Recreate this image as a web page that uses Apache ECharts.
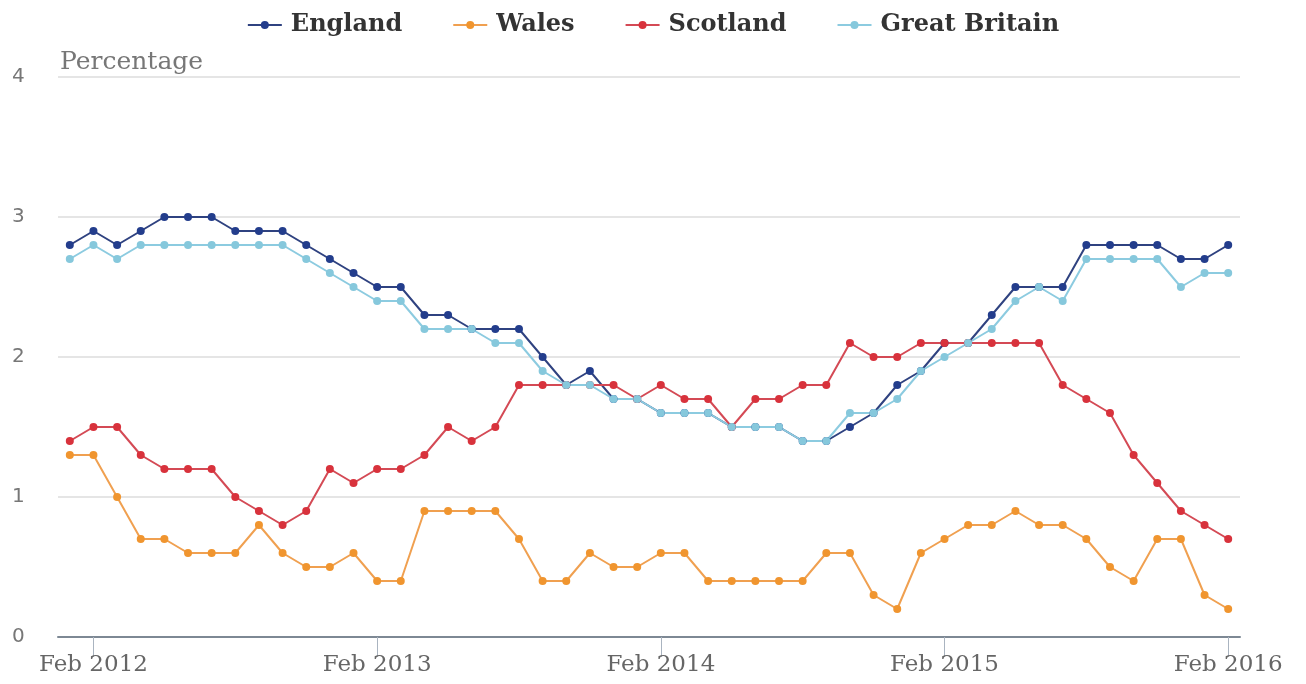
<!DOCTYPE html>
<html>
<head>
<meta charset="utf-8">
<title>Percentage by nation, Jan 2012 – Feb 2016</title>
<script src="https://cdn.jsdelivr.net/npm/echarts@6/dist/echarts.min.js"></script>
<style>
  html, body { margin: 0; padding: 0; background: #ffffff; }
  #chart { width: 1306px; height: 684px; }
</style>
</head>
<body>
<div id="chart"></div>
<script>
// Monthly categories, Jan 2012 to Feb 2016
const months = ['Jan','Feb','Mar','Apr','May','Jun','Jul','Aug','Sep','Oct','Nov','Dec'];
const categories = [];
for (let y = 2012; y <= 2016; y++) {
  for (let m = 0; m < 12; m++) {
    if (y === 2016 && m > 1) break;
    categories.push(months[m] + ' ' + y);
  }
}

const england = [2.8,2.9,2.8,2.9,3.0,3.0,3.0,2.9,2.9,2.9,
                 2.8,2.7,2.6,2.5,2.5,2.3,2.3,2.2,2.2,2.2,
                 2.0,1.8,1.9,1.7,1.7,1.6,1.6,1.6,1.5,1.5,
                 1.5,1.4,1.4,1.5,1.6,1.8,1.9,2.1,2.1,2.3,
                 2.5,2.5,2.5,2.8,2.8,2.8,2.8,2.7,2.7,2.8];

const wales = [1.3,1.3,1.0,0.7,0.7,0.6,0.6,0.6,0.8,0.6,
               0.5,0.5,0.6,0.4,0.4,0.9,0.9,0.9,0.9,0.7,
               0.4,0.4,0.6,0.5,0.5,0.6,0.6,0.4,0.4,0.4,
               0.4,0.4,0.6,0.6,0.3,0.2,0.6,0.7,0.8,0.8,
               0.9,0.8,0.8,0.7,0.5,0.4,0.7,0.7,0.3,0.2];

const scotland = [1.4,1.5,1.5,1.3,1.2,1.2,1.2,1.0,0.9,0.8,
                  0.9,1.2,1.1,1.2,1.2,1.3,1.5,1.4,1.5,1.8,
                  1.8,1.8,1.8,1.8,1.7,1.8,1.7,1.7,1.5,1.7,
                  1.7,1.8,1.8,2.1,2.0,2.0,2.1,2.1,2.1,2.1,
                  2.1,2.1,1.8,1.7,1.6,1.3,1.1,0.9,0.8,0.7];

const greatBritain = [2.7,2.8,2.7,2.8,2.8,2.8,2.8,2.8,2.8,2.8,
                      2.7,2.6,2.5,2.4,2.4,2.2,2.2,2.2,2.1,2.1,
                      1.9,1.8,1.8,1.7,1.7,1.6,1.6,1.6,1.5,1.5,
                      1.5,1.4,1.4,1.6,1.6,1.7,1.9,2.0,2.1,2.2,
                      2.4,2.5,2.4,2.7,2.7,2.7,2.7,2.5,2.6,2.6];

const yTicks = [0, 1, 2, 3, 4];

const serif = '"DejaVu Serif", serif';

function line(name, data, color, lineColor) {
  return {
    name: name,
    type: 'line',
    data: data,
    symbol: 'circle',
    symbolSize: 8,
    showSymbol: true,
    itemStyle: { color: color },
    lineStyle: { color: lineColor, width: 2 },
    emphasis: { disabled: true },
    z: 2
  };
}

const chart = echarts.init(document.getElementById('chart'), null, { renderer: 'canvas' });

chart.setOption({
  animation: false,
  backgroundColor: '#ffffff',
  grid: { left: 58, right: 66, top: 77, bottom: 47, containLabel: false },
  legend: {
    top: 8,
    left: 'center',
    itemWidth: 34,
    itemHeight: 10,
    itemGap: 50,
    textStyle: { fontFamily: serif, fontWeight: 'bold', fontSize: 24, color: '#333333', padding: [0, 0, 0, 4] },
    data: ['England', 'Wales', 'Scotland', 'Great Britain']
  },
  graphic: [{
    type: 'text',
    left: 60,
    top: 50,
    style: { text: 'Percentage', font: '25px ' + serif, fill: '#777777' }
  }],
  xAxis: {
    type: 'category',
    data: categories,
    boundaryGap: true,
    axisLine: { show: true, lineStyle: { color: '#7d8894', width: 2 } },
    axisTick: {
      show: true,
      alignWithLabel: true,
      length: 20,
      interval: (i) => i % 12 === 1,
      lineStyle: { color: '#aab4c0', width: 1 }
    },
    axisLabel: {
      interval: (i) => i % 12 === 1,
      margin: 17,
      fontFamily: serif,
      fontSize: 23,
      color: '#666666',
      formatter: (v) => v
    },
    splitLine: { show: false }
  },
  yAxis: {
    type: 'value',
    min: yTicks[0],
    max: yTicks[yTicks.length - 1],
    interval: 1,
    axisLine: { show: false },
    axisTick: { show: false },
    axisLabel: {
      align: 'left',
      margin: 46,
      fontFamily: '"DejaVu Sans", sans-serif',
      fontSize: 20,
      color: '#777777',
      formatter: (v) => yTicks.includes(v) ? String(v) : ''
    },
    splitLine: { show: true, lineStyle: { color: '#dcdcdc', width: 1.5 } }
  },
  series: [
    line('England', england, '#233d8c', '#2f4280'),
    line('Wales', wales, '#f0952f', '#f0a050'),
    line('Scotland', scotland, '#d8323c', '#d44a55'),
    line('Great Britain', greatBritain, '#86c8dc', '#8ccbe0')
  ]
});
</script>
</body>
</html>
